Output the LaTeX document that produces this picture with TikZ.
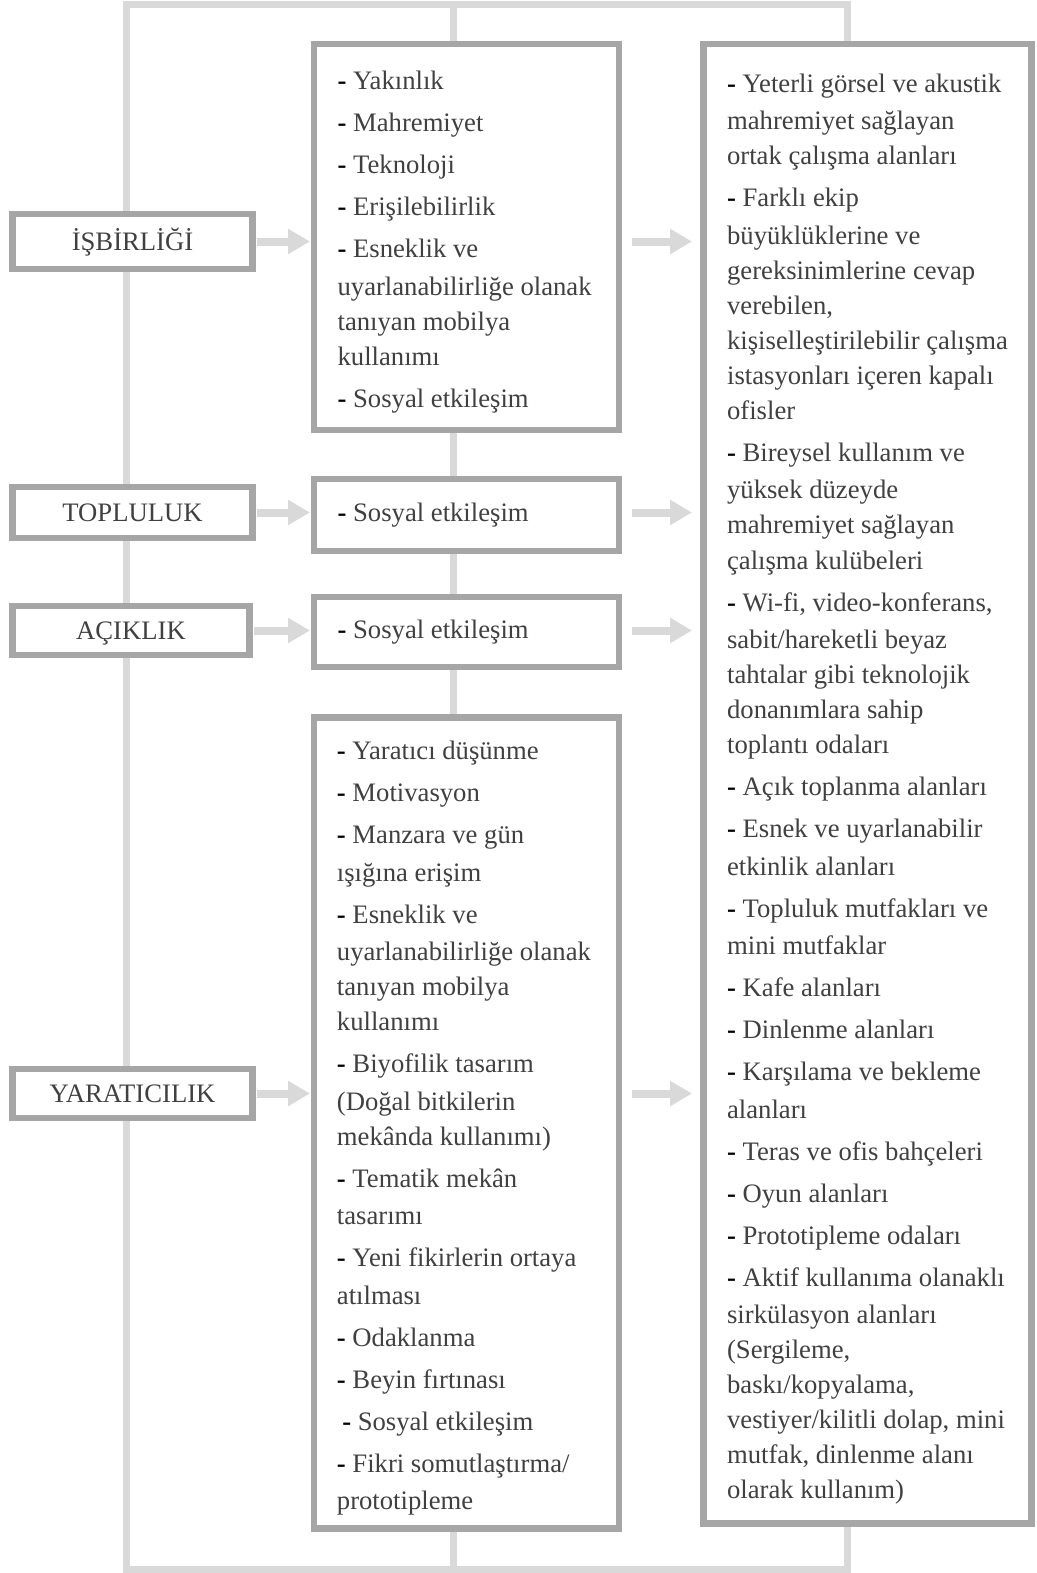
\documentclass[tikz,border=0pt]{standalone}
\usepackage{fontspec}
\setmainfont{Liberation Serif}
\usetikzlibrary{arrows.meta}

\definecolor{boxgray}{HTML}{A6A6A6}
\definecolor{linegray}{HTML}{D9D9D9}
\definecolor{txtgray}{HTML}{404040}
\newcommand{\dsh}{\textcolor{black}{\textbf{-}}\space}

\begin{document}
\begin{tikzpicture}[x=0.75pt, y=-0.75pt,
  frame/.style={draw=linegray, line width=5.25pt},
  box/.style={draw=boxgray, line width=4.9pt, fill=white, inner sep=0pt, outer sep=0pt},
  lbl/.style={box, minimum width=180pt, text=txtgray, text height=12.9pt, text depth=0pt, font=\fontsize{20}{26.3}\selectfont},
  list/.style={anchor=west, inner sep=0pt, align=left, text=txtgray, font=\fontsize{20}{26.3}\selectfont},
  arr/.style={draw=linegray, line width=6pt, -{Triangle[length=16.5pt,width=18pt]}}]
\useasboundingbox (0,0) rectangle (1037,1573);

% light frame behind the boxes
\draw[frame] (126,5) rectangle (847,1569);
\draw[frame] (453.5,5) -- (453.5,1569);

% concepts
\node[lbl, minimum height=41.25pt] (isb) at (132.5,241.5) {İŞBİRLİĞİ};
\node[lbl, minimum height=38.25pt] (topl) at (132.5,512.5) {TOPLULUK};
\node[lbl, minimum width=177.75pt, minimum height=36.75pt] (acik) at (131,630.5) {AÇIKLIK};
\node[lbl, minimum height=36.75pt] (yar) at (132.5,1093.5) {YARATICILIK};

% needs
\node[box, minimum width=228.75pt, minimum height=289.5pt] (mid1) at (466.5,237) {};
\node[box, minimum width=228.75pt, minimum height=54pt] (mid2) at (466.5,515) {};
\node[box, minimum width=228.75pt, minimum height=52.5pt] (mid3) at (466.5,632) {};
\node[box, minimum width=228.75pt, minimum height=608.25pt] (mid4) at (466.5,1123) {};

% spaces
\node[box, minimum width=246pt, minimum height=1109.6pt] (req) at (867.5,783.75) {};

\foreach \s/\m in {isb/mid1, topl/mid2, acik/mid3, yar/mid4} {
  \draw[arr, shorten <=3.4pt, shorten >=3pt] (\s.east) -- (\s.east -| \m.west);
  \draw[arr, shorten <=9.75pt, shorten >=8.6pt] (\s.east -| \m.east) -- (\s.east -| req.west);
}

\node[list] (mid1t) at ([xshift=17.5pt,yshift=-4pt]mid1.west) {\dsh Yakınlık\\[5.2pt]
\dsh Mahremiyet\\[5.2pt]
\dsh Teknoloji\\[5.2pt]
\dsh Erişilebilirlik\\[5.2pt]
\dsh Esneklik ve\\[1.8pt]
uyarlanabilirliğe olanak\\
tanıyan mobilya\\
kullanımı\\[5.2pt]
\dsh Sosyal etkileşim};
\node[list] (mid2t) at ([xshift=17.5pt]mid2.west) {\dsh Sosyal etkileşim};
\node[list] (mid3t) at ([xshift=17.5pt]mid3.west) {\dsh Sosyal etkileşim};
\node[list] (mid4t) at ([xshift=17pt,yshift=-4pt]mid4.west) {\dsh Yaratıcı düşünme\\[5.2pt]
\dsh Motivasyon\\[5.2pt]
\dsh Manzara ve gün\\[1.8pt]
ışığına erişim\\[5.2pt]
\dsh Esneklik ve\\[1.8pt]
uyarlanabilirliğe olanak\\
tanıyan mobilya\\
kullanımı\\[5.2pt]
\dsh Biyofilik tasarım\\[1.8pt]
(Doğal bitkilerin\\
mekânda kullanımı)\\[5.2pt]
\dsh Tematik mekân\\[1.8pt]
tasarımı\\[5.2pt]
\dsh Yeni fikirlerin ortaya\\[1.8pt]
atılması\\[5.2pt]
\dsh Odaklanma\\[5.2pt]
\dsh Beyin fırtınası\\[5.2pt]
\hspace*{4pt}\dsh Sosyal etkileşim\\[5.2pt]
\dsh Fikri somutlaştırma/\\[1.8pt]
prototipleme};

\node[list] (reqt) at ([xshift=17.5pt,yshift=-4pt]req.west) {\dsh Yeterli görsel ve akustik\\[1.8pt]
mahremiyet sağlayan\\
ortak çalışma alanları\\[5.2pt]
\dsh Farklı ekip\\[1.8pt]
büyüklüklerine ve\\
gereksinimlerine cevap\\
verebilen,\\
kişiselleştirilebilir çalışma\\
istasyonları içeren kapalı\\
ofisler\\[5.2pt]
\dsh Bireysel kullanım ve\\[1.8pt]
yüksek düzeyde\\
mahremiyet sağlayan\\
çalışma kulübeleri\\[5.2pt]
\dsh Wi-fi, video-konferans,\\[1.8pt]
sabit/hareketli beyaz\\
tahtalar gibi teknolojik\\
donanımlara sahip\\
toplantı odaları\\[5.2pt]
\dsh Açık toplanma alanları\\[5.2pt]
\dsh Esnek ve uyarlanabilir\\[1.8pt]
etkinlik alanları\\[5.2pt]
\dsh Topluluk mutfakları ve\\[1.8pt]
mini mutfaklar\\[5.2pt]
\dsh Kafe alanları\\[5.2pt]
\dsh Dinlenme alanları\\[5.2pt]
\dsh Karşılama ve bekleme\\[1.8pt]
alanları\\[5.2pt]
\dsh Teras ve ofis bahçeleri\\[5.2pt]
\dsh Oyun alanları\\[5.2pt]
\dsh Prototipleme odaları\\[5.2pt]
\dsh Aktif kullanıma olanaklı\\[1.8pt]
sirkülasyon alanları\\
(Sergileme,\\
baskı/kopyalama,\\
vestiyer/kilitli dolap, mini\\
mutfak, dinlenme alanı\\
olarak kullanım)};
\end{tikzpicture}
\end{document}
